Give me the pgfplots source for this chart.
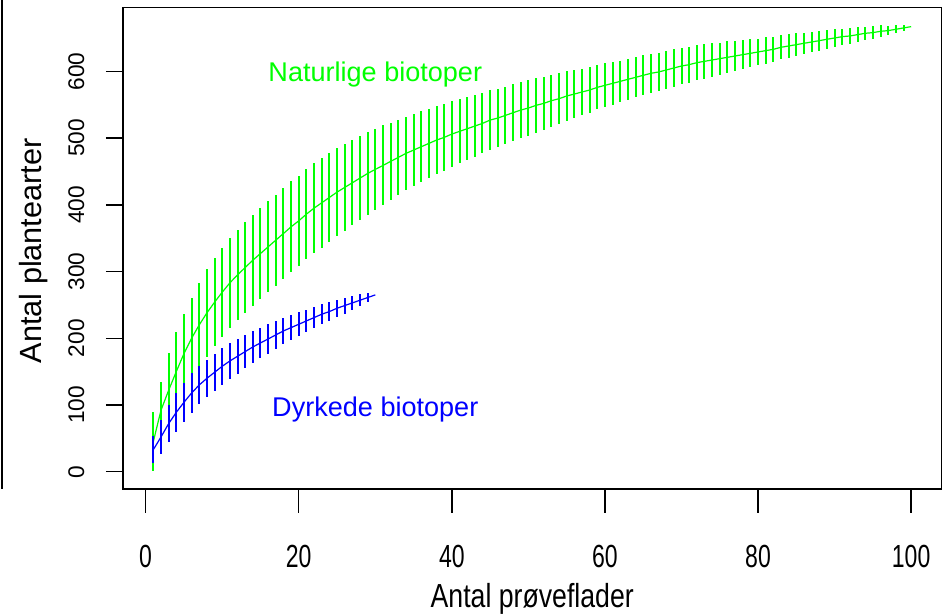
\documentclass[border=0pt]{standalone}
\usepackage{pgfplots}
\pgfplotsset{compat=1.18}
\usepackage{pgfplotstable}
\usepackage{fontspec}
\setmainfont{Liberation Sans}
\newfontfamily\narrowfont[FakeStretch=0.72]{Liberation Sans}
\newfontfamily\titlefont[FakeStretch=0.8]{Liberation Sans}
\usetikzlibrary{calc}
\definecolor{rgreen}{RGB}{0,255,0}
\definecolor{rblue}{RGB}{0,0,255}

\pgfplotstableread{
x y e
1 45 44
2 92 42
3 122 56
4 150 60
5 177 60
6 200 60
7 220 63
8 238 66
9 254 66
10 269 67
11 283 67
12 295 67
13 306 68
14 317 68
15 327 68
16 337 68
17 347 68
18 357 68
19 367 68
20 376 67
21 386 67
22 395 67
23 403 67
24 411 67
25 419 66
26 426 65
27 433 64
28 440 63
29 447 62
30 453 61
31 459 60
32 465 58
33 471 56
34 477 55
35 482 54
36 487 53
37 492 52
38 497 51
39 501 50
40 506 49
41 510 48
42 514 47
43 518 46
44 522 45
45 527 45
46 530 44
47 534 43
48 538 43
49 542 42
50 545 42
51 549 41
52 552 40
53 556 39
54 559 38
55 563 37
56 566 36
57 569 35
58 572 34
59 576 33
60 579 33
61 582 32
62 585 31
63 588 31
64 591 30
65 594 30
66 597 29
67 599 29
68 602 28
69 605 28
70 608 27
71 610 27
72 613 26
73 615 26
74 617 25
75 619 24
76 621 24
77 623 23
78 625 22
79 627 21
80 629 20
81 631 20
82 633 19
83 636 18
84 638 18
85 640 17
86 642 16
87 644 15
88 646 15
89 648 14
90 650 13
91 652 12
92 653 12
93 655 11
94 657 10
95 658 10
96 660 9
97 661 7
98 663 6
99 665 4
100 667 0
}\greendata

\pgfplotstableread{
x y e
1 33 20
2 52 25
3 72 28
4 89 29
5 104 29
6 118 30
7 130 29
8 140 28
9 149 28
10 158 28
11 166 27
12 173 26
13 180 25
14 187 24
15 193 23
16 199 22
17 205 21
18 211 20
19 216 19
20 221 18
21 226 17
22 231 16
23 236 15
24 240 14
25 245 13
26 249 12
27 253 11
28 257 9
29 261 7
30 265 0
}\bluedata

\begin{document}
\begin{tikzpicture}
\begin{axis}[
  name=ax,
  scale only axis,
  width=613.9pt, height=361.1pt,
  xmin=-2.96, xmax=103.96, ymin=-25.7, ymax=695.7,
  xtick={0,20,40,60,80,100},
  ytick={0,100,200,300,400,500,600},
  tick align=outside,
  xtick pos=lower, ytick pos=left,
  major tick length=12.75pt,
  xtick style={/pgfplots/major tick length=18pt},
  axis line style={line width=1.1pt},
  every tick/.style={black, line width=1.1pt},
  /pgf/number format/assume math mode=true,
  xticklabel style={font=\narrowfont\fontsize{24}{26}\selectfont, anchor=base, inner sep=0pt, yshift=-46pt},
  yticklabel style={font=\fontsize{17}{19}\selectfont, xshift=-16pt, rotate=90, anchor=south, inner sep=0pt},
  clip=false,
]
\addplot[rgreen, line width=0.9pt, mark=none,
  error bars/.cd, y dir=both, y explicit, error mark=none,
  error bar style={line width=1.5pt, rgreen}]
  table[x=x, y=y, y error=e] {\greendata};
\addplot[rblue, line width=0.9pt, mark=none,
  error bars/.cd, y dir=both, y explicit, error mark=none,
  error bar style={line width=1.5pt, rblue}]
  table[x=x, y=y, y error=e] {\bluedata};
\node[rgreen, anchor=base, inner sep=0pt, font=\fontsize{20.3}{24}\selectfont] at (axis cs:30,585) {Naturlige biotoper};
\node[rblue, anchor=base, inner sep=0pt, font=\fontsize{20.3}{24}\selectfont] at (axis cs:30,83.5) {Dyrkede biotoper};
\end{axis}
\node[rotate=90, anchor=base, inner sep=0pt, font=\fontsize{23}{26}\selectfont] at ($(ax.west)+(-60.75pt,-2pt)$) {Antal plantearter};
\node[anchor=base, inner sep=0pt, font=\titlefont\fontsize{25}{28}\selectfont] at ($(ax.south)+(0,-89pt)$) {Antal prøveflader};
\draw[line width=1.1pt] ($(ax.south west)+(-90.75pt,0)$) -- ($(ax.north west)+(-90.75pt,6pt)$);
\pgfresetboundingbox
\path[use as bounding box] ($(ax.south west)+(-92.25pt,-93.75pt)$) rectangle ($(ax.north east)+(3.4pt,5.6pt)$);
\end{tikzpicture}
\end{document}
